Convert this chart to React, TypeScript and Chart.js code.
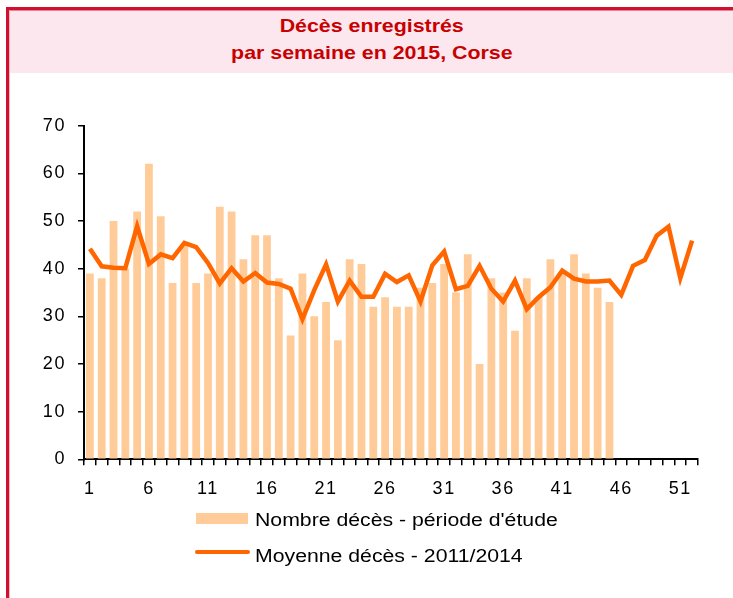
import React, { useEffect, useRef } from "react";
import { Chart, registerables } from "chart.js";

Chart.register(...registerables);

// ---------- data ----------
const weeks = [
  "1", "2", "3", "4", "5", "6", "7", "8", "9", "10",
  "11", "12", "13", "14", "15", "16", "17", "18", "19", "20",
  "21", "22", "23", "24", "25", "26", "27", "28", "29", "30",
  "31", "32", "33", "34", "35", "36", "37", "38", "39", "40",
  "41", "42", "43", "44", "45", "46", "47", "48", "49", "50",
  "51", "52",
];

// Nombre décès - période d'étude (weeks 1..45)
const deaths2015 = [
  39, 38, 50, 40, 52, 62, 51, 37, 45, 37,
  39, 53, 52, 42, 47, 47, 38, 26, 39, 30,
  33, 25, 42, 41, 32, 34, 32, 32, 36, 37,
  41, 35, 43, 20, 38, 35, 27, 38, 34, 42,
  39, 43, 39, 36, 33,
];

// Moyenne décès - 2011/2014 (weeks 1..52)
const average2011to2014 = [
  44.2, 40.5, 40.2, 40.1, 48.9, 41.0, 43.0, 42.2, 45.4, 44.5,
  41.2, 36.9, 40.1, 37.3, 39.1, 37.1, 36.8, 35.8, 29.4, 35.5,
  40.9, 33.1, 37.5, 34.1, 34.1, 38.9, 37.2, 38.6, 33.1, 40.7,
  43.6, 35.7, 36.4, 40.6, 35.8, 33.1, 37.5, 31.5, 34.0, 36.1,
  39.6, 37.9, 37.3, 37.3, 37.5, 34.5, 40.6, 41.8, 46.9, 48.8,
  38.0, 45.9,
];

const yMin = 0;
const yMax = 70;
const yStep = 10;
const xLabelEvery = 5;

const titleLines = ["Décès enregistrés", "par semaine en 2015, Corse"];
const barLabel = "Nombre décès - période d'étude";
const lineLabel = "Moyenne décès - 2011/2014";

// ---------- styles ----------
const BAR_COLOR = "#FFCC99";
const LINE_COLOR = "#FF6600";
const FRAME_RED = "#CF1130";
const TITLE_RED = "#C80000";
const PINK = "#FDE7EF";
const FONT = "'Liberation Sans', Arial, Helvetica, sans-serif";
const SPACING = "1.6px";

const letterSpacingPlugin = {
  id: "letterSpacing",
  beforeDraw(chart: any) {
    (chart.ctx as any).letterSpacing = SPACING;
  },
};

export default function App() {
  const canvasRef = useRef<HTMLCanvasElement | null>(null);

  useEffect(() => {
    if (!canvasRef.current) return;
    const chart = new Chart(canvasRef.current, {
      type: "bar",
      data: {
        labels: weeks,
        datasets: [
          {
            type: "line",
            label: lineLabel,
            data: average2011to2014,
            borderColor: LINE_COLOR,
            backgroundColor: LINE_COLOR,
            borderWidth: 4.5,
            pointRadius: 0,
            tension: 0,
            fill: false,
            order: 1,
          } as any,
          {
            type: "bar",
            label: barLabel,
            data: deaths2015,
            backgroundColor: BAR_COLOR,
            borderWidth: 0,
            barPercentage: 0.66,
            categoryPercentage: 1,
            order: 2,
          } as any,
        ],
      },
      plugins: [letterSpacingPlugin],
      options: {
        animation: false,
        responsive: false,
        maintainAspectRatio: false,
        layout: { padding: { top: 125.7, right: 35, bottom: 98.7, left: 0 } },
        plugins: {
          legend: { display: false },
          title: { display: false },
          tooltip: { enabled: false },
        },
        scales: {
          x: {
            type: "category",
            offset: true,
            grid: {
              display: true,
              drawOnChartArea: false,
              drawTicks: true,
              tickLength: 6,
              color: "#000",
              lineWidth: 1.5,
              offset: true,
            },
            border: { display: true, color: "#000", width: 2 },
            ticks: {
              autoSkip: false,
              maxRotation: 0,
              minRotation: 0,
              padding: 13,
              color: "#000",
              font: { family: FONT, size: 18 },
              callback: (_v: any, i: number) => (i % xLabelEvery === 0 ? weeks[i] : ""),
            },
            afterFit: (s: any) => {
              s.height = 40;
            },
          },
          y: {
            min: yMin,
            max: yMax,
            grid: {
              display: true,
              drawOnChartArea: false,
              drawTicks: true,
              tickLength: 6,
              color: "#000",
              lineWidth: 1.5,
            },
            border: { display: true, color: "#000", width: 2 },
            ticks: {
              stepSize: yStep,
              padding: 12,
              color: "#000",
              font: { family: FONT, size: 18 },
            },
            afterFit: (s: any) => {
              s.width = 84;
            },
          },
        },
      } as any,
    });
    return () => chart.destroy();
  }, []);

  const legendText: React.CSSProperties = {
    position: "absolute",
    left: 255,
    fontSize: 18,
    lineHeight: "20px",
    color: "#000",
    whiteSpace: "nowrap",
    transform: "scaleX(1.18)",
    transformOrigin: "left center",
  };

  return (
    <div
      style={{
        position: "absolute",
        left: 0,
        top: 0,
        width: 733,
        height: 598,
        overflow: "hidden",
        background: "#fff",
        fontFamily: FONT,
      }}
    >
      {/* frame */}
      <div
        style={{
          position: "absolute",
          left: 6,
          top: 7,
          width: 800,
          height: 700,
          borderTop: `3px solid ${FRAME_RED}`,
          borderLeft: `3px solid ${FRAME_RED}`,
          boxSizing: "border-box",
        }}
      />
      <div
        style={{
          position: "absolute",
          left: 9,
          top: 10,
          width: 800,
          height: 700,
          borderTop: "1px solid #EE7F93",
          borderLeft: "1px solid #F6B8C4",
          boxSizing: "border-box",
        }}
      />
      {/* title band */}
      <div
        style={{
          position: "absolute",
          left: 10,
          top: 11,
          width: 723,
          height: 62,
          background: PINK,
        }}
      />
      <div
        style={{
          position: "absolute",
          left: 0,
          top: 13,
          width: 744,
          textAlign: "center",
          color: TITLE_RED,
          fontWeight: "bold",
          fontSize: 18.5,
          lineHeight: "26.7px",
          whiteSpace: "nowrap",
        }}
      >
        {titleLines.map((t) => (
          <div key={t}>
            <span
              style={{
                display: "inline-block",
                transform: "scaleX(1.155)",
                transformOrigin: "center center",
              }}
            >
              {t}
            </span>
          </div>
        ))}
      </div>
      {/* chart */}
      <canvas
        ref={canvasRef}
        width={733}
        height={598}
        style={{ position: "absolute", left: 0, top: 0, width: 733, height: 598 }}
      />
      {/* legend */}
      <div
        style={{
          position: "absolute",
          left: 196,
          top: 513.3,
          width: 52,
          height: 11,
          background: BAR_COLOR,
        }}
      />
      <div style={{ ...legendText, top: 510.4 }}>{barLabel}</div>
      <div
        style={{
          position: "absolute",
          left: 195,
          top: 550,
          width: 55,
          height: 4.3,
          borderRadius: 2.2,
          background: LINE_COLOR,
        }}
      />
      <div style={{ ...legendText, top: 546.4 }}>{lineLabel}</div>
    </div>
  );
}
